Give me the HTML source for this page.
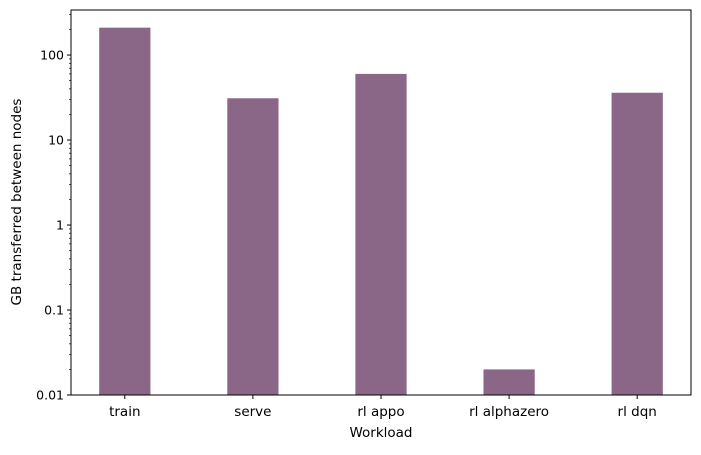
<!DOCTYPE html>
<html><head><meta charset="utf-8"><style>
body{margin:0;background:#fff;}
svg{font-family:"DejaVu Sans","Liberation Sans",sans-serif;}
</style></head><body>
<svg id="chart" width="701" height="450">
<rect x="0" y="0" width="701" height="450" fill="#fff"/>
<g id="bars"></g>
<g id="axes"></g>
<text x="381" y="437" text-anchor="middle" font-size="13.5">Workload</text>
<text transform="translate(21,202) rotate(-90)" text-anchor="middle" font-size="13.5">GB transferred between nodes</text>
</svg>
<script>
const categories=["train","serve","rl appo","rl alphazero","rl dqn"];
const values=[210,31,60,0.02,36];
const yTicks=[0.01,0.1,1,10,100];
const yTickLabels=["0.01","0.1","1","10","100"];
const L=71,R=691,T=10,B=395;
const xMin=-0.42,xMax=4.42,yMinLog=-2,yMaxLog=2.53;
const xs=i=>L+(i-xMin)/(xMax-xMin)*(R-L);
const ys=v=>B-(Math.log10(v)-yMinLog)/(yMaxLog-yMinLog)*(B-T);
const NS="http://www.w3.org/2000/svg";
const bars=document.getElementById('bars'),axes=document.getElementById('axes');
function mk(tag,attrs,parent){const e=document.createElementNS(NS,tag);for(const k in attrs)e.setAttribute(k,attrs[k]);parent.appendChild(e);return e;}
const bw=0.4*(R-L)/(xMax-xMin);
values.forEach((v,i)=>{
  const y=ys(v);
  const r=mk('rect',{x:xs(i)-bw/2,y:y,width:bw,height:B-y,fill:'#8a6787'},bars);
  
  
  mk('line',{x1:xs(i),x2:xs(i),y1:B,y2:B+4,stroke:'#000'},axes);
  const t=mk('text',{x:xs(i),y:B+21,'text-anchor':'middle','font-size':13.5},axes);
  t.textContent=categories[i];
  
  
});
yTicks.forEach((v,i)=>{
  const y=ys(v);
  mk('line',{x1:L-4,x2:L,y1:y,y2:y,stroke:'#000'},axes);
  const t=mk('text',{x:L-7,y:y+4.5,'text-anchor':'end','font-size':12.5},axes);
  t.textContent=yTickLabels[i];
  
  
  for(let m=2;m<=9;m++){const mv=v*m;if(Math.log10(mv)>yMaxLog)break;const my=ys(mv);
    mk('line',{x1:L-2,x2:L,y1:my,y2:my,stroke:'#000','stroke-width':0.7},axes);}
});
const f=mk('rect',{x:L,y:T,width:R-L,height:B-T,fill:'none',stroke:'#000','stroke-width':1},axes);


</script>
</body></html>
